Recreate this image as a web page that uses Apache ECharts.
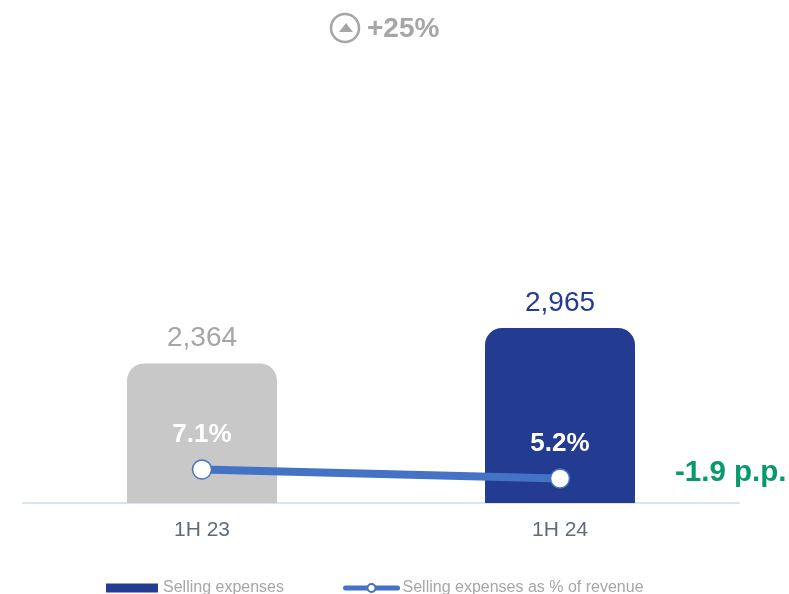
<!DOCTYPE html>
<html>
<head>
<meta charset="utf-8">
<style>html,body{margin:0;padding:0;background:#fff}#chart{width:789px;height:594px}</style>
<script src="https://cdn.jsdelivr.net/npm/echarts@6/dist/echarts.min.js"></script>
</head>
<body>
<div id="chart"></div>
<script>
const periods = ['1H 23', '1H 24'];
const sellingExpenses = [2364, 2965];
const expenseShare = [7.1, 5.2];
const barColors = ['#c8c8c8', '#233b90'];
const valueLabelColors = ['#a6a6a6', '#233b90'];
const yearChange = '+25%';
const shareChange = '-1.9 p.p.';
const barName = 'Selling expenses';
const lineName = 'Selling expenses as % of revenue';

const font = '"Liberation Sans", Arial, sans-serif';
const chart = echarts.init(document.getElementById('chart'), null, { renderer: 'canvas' });

chart.setOption({
  animation: false,
  backgroundColor: '#ffffff',
  textStyle: { fontFamily: font },
  grid: { left: 23, right: 50, top: 31, bottom: 91, containLabel: false },
  legend: [
    {
      data: [{ name: barName, icon: 'rect', itemStyle: { borderRadius: 0, color: '#233b90' } }],
      left: 106, top: 580, padding: 0,
      itemWidth: 52, itemHeight: 9, itemGap: 0,
      textStyle: { color: '#a6a6a6', fontSize: 16, fontFamily: font },
      selectedMode: false
    },
    {
      data: [{ name: lineName }],
      left: 343, top: 580, padding: 0,
      itemWidth: 52, itemHeight: 10, itemGap: 0,
      lineStyle: { width: 5, cap: 'round', color: '#4472c4' },
      textStyle: { color: '#a6a6a6', fontSize: 16, fontFamily: font, padding: [0, 0, 0, 0] },
      selectedMode: false
    }
  ],
  xAxis: {
    type: 'category',
    data: periods,
    axisTick: { show: false },
    axisLine: { show: true, lineStyle: { color: '#d8e2f3', width: 2 } },
    axisLabel: { color: '#5f6b7a', fontSize: 21, margin: 17, fontFamily: font }
  },
  yAxis: [
    { type: 'value', min: 0, max: 8000, show: false, splitLine: { show: false } },
    { type: 'value', min: 0, max: 100, show: false, splitLine: { show: false } }
  ],
  series: [
    {
      name: barName,
      type: 'bar',
      barWidth: 150,
      color: '#233b90',
      data: sellingExpenses.map((v, i) => ({
        value: v,
        itemStyle: { color: barColors[i], borderRadius: [17, 17, 0, 0] },
        label: { color: valueLabelColors[i] }
      })),
      label: {
        show: true,
        position: 'top',
        distance: 11,
        fontSize: 28,
        fontFamily: font,
        formatter: p => p.value.toLocaleString('en-US')
      },
      z: 2
    },
    {
      name: lineName,
      type: 'line',
      yAxisIndex: 1,
      data: expenseShare,
      color: '#4472c4',
      symbol: 'circle',
      symbolSize: 19,
      showSymbol: true,
      lineStyle: { color: '#4472c4', width: 8 },
      itemStyle: { color: '#ffffff', borderColor: '#4472c4', borderWidth: 1.5 },
      label: {
        show: true,
        position: 'top',
        distance: 11,
        color: '#ffffff',
        fontSize: 26,
        fontWeight: 'bold',
        fontFamily: font,
        formatter: p => p.value.toFixed(1) + '%'
      },
      z: 3
    }
  ],
  graphic: [
    {
      type: 'circle', shape: { cx: 345, cy: 28, r: 14 },
      style: { fill: 'none', stroke: '#a6a6a6', lineWidth: 2.5 }
    },
    {
      type: 'polygon', shape: { points: [[346, 23], [353, 32], [339, 32]] },
      style: { fill: '#a6a6a6' }
    },
    {
      type: 'text', left: 367, top: 15,
      style: { text: yearChange, fill: '#a6a6a6', font: 'bold 28px ' + font }
    },
    {
      type: 'text', left: 675, top: 458,
      style: { text: shareChange, fill: '#069a6e', font: 'bold 29.5px ' + font }
    }
  ]
});
</script>
</body>
</html>
